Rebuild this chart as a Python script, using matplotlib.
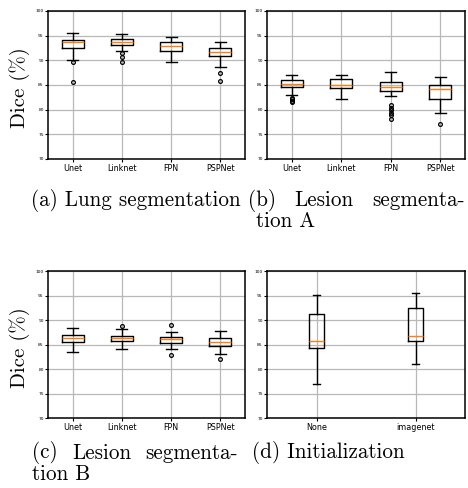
import matplotlib
matplotlib.use("Agg")
import matplotlib.pyplot as plt

# box statistics (Dice %)
models = ["Unet", "Linknet", "FPN", "PSPNet"]

lung_q1 = [92.5, 93.2, 91.85, 90.8]
lung_med = [93.7, 93.8, 92.9, 91.7]
lung_q3 = [94.2, 94.4, 93.75, 92.5]
lung_lo = [90.0, 91.9, 89.75, 88.7]
lung_hi = [95.6, 95.25, 94.7, 93.75]
lung_fliers = [[89.7, 85.7], [91.45, 90.7, 89.6], [], [87.4, 85.9]]

lesA_q1 = [84.65, 84.45, 83.8, 82.1]
lesA_med = [85.3, 85.05, 84.65, 84.1]
lesA_q3 = [85.95, 86.15, 85.7, 85.05]
lesA_lo = [82.95, 82.15, 82.8, 79.4]
lesA_hi = [87.1, 87.1, 87.6, 86.7]
lesA_fliers = [[82.4, 82.1, 81.8, 81.5], [],
               [80.85, 80.4, 79.9, 79.4, 78.9, 78.1], [77.0]]

lesB_q1 = [85.45, 85.8, 85.4, 84.75]
lesB_med = [86.25, 86.25, 86.1, 85.5]
lesB_q3 = [87.0, 86.8, 86.5, 86.25]
lesB_lo = [83.55, 84.15, 84.15, 83.0]
lesB_hi = [88.4, 88.2, 87.55, 87.7]
lesB_fliers = [[], [88.7], [88.95, 82.8], [82.05]]

inits = ["None", "imagenet"]
init_q1 = [84.35, 85.8]
init_med = [85.7, 86.7]
init_q3 = [91.25, 92.35]
init_lo = [76.95, 81.1]
init_hi = [95.1, 95.5]
init_fliers = [[], []]

yticks = [70, 75, 80, 85, 90, 95, 100]

W, H = 468, 488
fig = plt.figure(figsize=(W / 100, H / 100), dpi=100)

cm = {"family": "cmr10"}
fs = 15.2


def make_stats(q1, med, q3, lo, hi, fl):
    out = []
    for i in range(len(q1)):
        out.append({"q1": q1[i], "med": med[i], "q3": q3[i],
                    "whislo": lo[i], "whishi": hi[i], "fliers": fl[i]})
    return out


def panel(px, py, pw, ph, stats, labels):
    ax = fig.add_axes([px / W, 1 - (py + ph) / H, pw / W, ph / H])
    ax.bxp(stats, showfliers=True,
           boxprops=dict(linewidth=1.0),
           whiskerprops=dict(linewidth=1.0),
           capprops=dict(linewidth=1.0),
           medianprops=dict(color="C1", linewidth=1.0),
           flierprops=dict(marker="o", markersize=2.7, markerfacecolor="none",
                           markeredgewidth=0.9))
    ax.set_xticks(range(1, len(labels) + 1))
    ax.set_xticklabels(labels, fontsize=5.8)
    ax.set_ylim(70, 100)
    ax.set_yticks(yticks)
    ax.tick_params(axis="y", labelsize=3.2, length=2, pad=1)
    ax.tick_params(axis="x", length=2, pad=1.5)
    ax.grid(True, color="#b8b8b8", linewidth=0.9)
    ax.set_axisbelow(True)
    for s in ax.spines.values():
        s.set_linewidth(1.1)
    return ax


panel(48, 11, 197, 148, make_stats(lung_q1, lung_med, lung_q3, lung_lo, lung_hi, lung_fliers), models)
panel(267, 11, 198, 148, make_stats(lesA_q1, lesA_med, lesA_q3, lesA_lo, lesA_hi, lesA_fliers), models)
panel(48, 271, 197, 147, make_stats(lesB_q1, lesB_med, lesB_q3, lesB_lo, lesB_hi, lesB_fliers), models)
panel(267, 271, 198, 147, make_stats(init_q1, init_med, init_q3, init_lo, init_hi, init_fliers), inits)

# y labels
fig.text(20 / W, 1 - 88 / H, "Dice (%)", rotation=90, ha="center", va="center", fontsize=15, **cm)
fig.text(20 / W, 1 - 348 / H, "Dice (%)", rotation=90, ha="center", va="center", fontsize=15, **cm)

renderer = fig.canvas.get_renderer()


def justified(words, x0, x1, y):
    # spread words over [x0, x1] like a justified LaTeX line
    arts = [fig.text(0, 1 - y / H, w, ha="left", va="center", fontsize=fs, **cm) for w in words]
    widths = [a.get_window_extent(renderer).width for a in arts]
    gap = (x1 - x0 - sum(widths)) / (len(words) - 1)
    x = x0
    for a, wd in zip(arts, widths):
        a.set_x(x / W)
        x += wd + gap


# captions
fig.text(31 / W, 1 - 200 / H, "(a) Lung segmentation", ha="left", va="center", fontsize=fs, **cm)
justified(["(b)", "Lesion", "segmenta-"], 248, 465, 200)
fig.text(256 / W, 1 - 221 / H, "tion A", ha="left", va="center", fontsize=fs, **cm)
justified(["(c)", "Lesion", "segmenta-"], 32, 238, 453)
fig.text(32 / W, 1 - 474 / H, "tion B", ha="left", va="center", fontsize=fs, **cm)
fig.text(252 / W, 1 - 453 / H, "(d) Initialization", ha="left", va="center", fontsize=fs, **cm)

fig.savefig("out.png", dpi=100)
